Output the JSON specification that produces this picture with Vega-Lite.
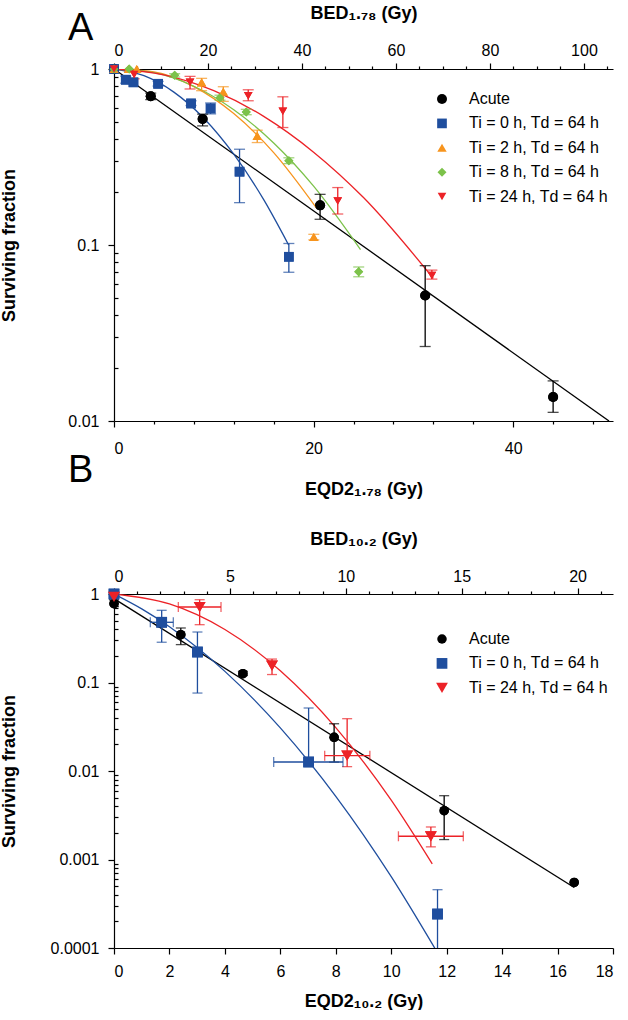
{
  "$schema": "https://vega.github.io/schema/vega-lite/v6.json",
  "padding": {"left": 0, "top": 4, "right": 5, "bottom": 0},
  "spacing": -46,
  "config": {
    "font": "Liberation Sans",
    "view": {"stroke": null},
    "axis": {"grid": false, "labelFont": "Liberation Sans", "labelFontSize": 16, "labelColor": "#000", "titleFont": "Liberation Sans", "titleFontSize": 18, "titleFontWeight": "bold", "titleColor": "#000", "domainColor": "#000", "tickColor": "#000", "domainWidth": 1.2, "tickWidth": 1.2},
    "title": {"font": "Liberation Sans", "fontWeight": "normal", "fontSize": 38, "color": "#000"},
    "legend": {"title": null, "orient": "none", "labelFontSize": 16, "labelFont": "Liberation Sans", "labelColor": "#000", "rowPadding": 8.4, "labelOffset": 19, "padding": 0, "labelLimit": 300, "symbolStrokeWidth": 0}
  },
  "datasets": {
    "a_pts": [
      {"s": "Acute", "d": 0, "sf": 1},
      {"s": "Acute", "d": 3.68, "sf": 0.7},
      {"s": "Acute", "d": 8.88, "sf": 0.52},
      {"s": "Acute", "d": 20.65, "sf": 0.168},
      {"s": "Acute", "d": 31.18, "sf": 0.0517},
      {"s": "Acute", "d": 44.0, "sf": 0.0137},
      {"s": "Ti = 0 h, Td = 64 h", "d": 0, "sf": 1},
      {"s": "Ti = 0 h, Td = 64 h", "d": 1.18, "sf": 0.869},
      {"s": "Ti = 0 h, Td = 64 h", "d": 1.95, "sf": 0.84},
      {"s": "Ti = 0 h, Td = 64 h", "d": 4.42, "sf": 0.824},
      {"s": "Ti = 0 h, Td = 64 h", "d": 7.72, "sf": 0.637},
      {"s": "Ti = 0 h, Td = 64 h", "d": 9.68, "sf": 0.597},
      {"s": "Ti = 0 h, Td = 64 h", "d": 12.58, "sf": 0.261},
      {"s": "Ti = 0 h, Td = 64 h", "d": 17.52, "sf": 0.0857},
      {"s": "Ti = 2 h, Td = 64 h", "d": 0, "sf": 1},
      {"s": "Ti = 2 h, Td = 64 h", "d": 1.45, "sf": 1.0},
      {"s": "Ti = 2 h, Td = 64 h", "d": 2.28, "sf": 1.0},
      {"s": "Ti = 2 h, Td = 64 h", "d": 8.78, "sf": 0.84},
      {"s": "Ti = 2 h, Td = 64 h", "d": 10.95, "sf": 0.743},
      {"s": "Ti = 2 h, Td = 64 h", "d": 14.35, "sf": 0.417},
      {"s": "Ti = 2 h, Td = 64 h", "d": 20.02, "sf": 0.111},
      {"s": "Ti = 8 h, Td = 64 h", "d": 0, "sf": 1},
      {"s": "Ti = 8 h, Td = 64 h", "d": 1.52, "sf": 1.0},
      {"s": "Ti = 8 h, Td = 64 h", "d": 6.08, "sf": 0.921},
      {"s": "Ti = 8 h, Td = 64 h", "d": 10.62, "sf": 0.687},
      {"s": "Ti = 8 h, Td = 64 h", "d": 13.25, "sf": 0.57},
      {"s": "Ti = 8 h, Td = 64 h", "d": 17.52, "sf": 0.301},
      {"s": "Ti = 8 h, Td = 64 h", "d": 24.52, "sf": 0.0705},
      {"s": "Ti = 24 h, Td = 64 h", "d": 0, "sf": 1},
      {"s": "Ti = 24 h, Td = 64 h", "d": 2.02, "sf": 0.93},
      {"s": "Ti = 24 h, Td = 64 h", "d": 7.62, "sf": 0.84},
      {"s": "Ti = 24 h, Td = 64 h", "d": 13.45, "sf": 0.705},
      {"s": "Ti = 24 h, Td = 64 h", "d": 16.92, "sf": 0.576},
      {"s": "Ti = 24 h, Td = 64 h", "d": 22.42, "sf": 0.178},
      {"s": "Ti = 24 h, Td = 64 h", "d": 31.85, "sf": 0.067}
    ],
    "a_err": [
      {"s": "Acute", "d": 3.68, "lo": 0.67, "hi": 0.73},
      {"s": "Acute", "d": 8.88, "lo": 0.475, "hi": 0.554},
      {"s": "Acute", "d": 20.65, "lo": 0.14, "hi": 0.194},
      {"s": "Acute", "d": 31.18, "lo": 0.0265, "hi": 0.0763},
      {"s": "Acute", "d": 44.0, "lo": 0.0112, "hi": 0.0169},
      {"s": "Ti = 0 h, Td = 64 h", "d": 1.18, "lo": 0.83, "hi": 0.91},
      {"s": "Ti = 0 h, Td = 64 h", "d": 4.42, "lo": 0.8, "hi": 0.85},
      {"s": "Ti = 0 h, Td = 64 h", "d": 7.72, "lo": 0.62, "hi": 0.66},
      {"s": "Ti = 0 h, Td = 64 h", "d": 9.68, "lo": 0.556, "hi": 0.641},
      {"s": "Ti = 0 h, Td = 64 h", "d": 12.58, "lo": 0.174, "hi": 0.35},
      {"s": "Ti = 0 h, Td = 64 h", "d": 17.52, "lo": 0.07, "hi": 0.102},
      {"s": "Ti = 2 h, Td = 64 h", "d": 8.78, "lo": 0.753, "hi": 0.885},
      {"s": "Ti = 2 h, Td = 64 h", "d": 10.95, "lo": 0.655, "hi": 0.793},
      {"s": "Ti = 2 h, Td = 64 h", "d": 14.35, "lo": 0.382, "hi": 0.449},
      {"s": "Ti = 2 h, Td = 64 h", "d": 20.02, "lo": 0.107, "hi": 0.115},
      {"s": "Ti = 8 h, Td = 64 h", "d": 6.08, "lo": 0.9, "hi": 0.94},
      {"s": "Ti = 8 h, Td = 64 h", "d": 10.62, "lo": 0.665, "hi": 0.71},
      {"s": "Ti = 8 h, Td = 64 h", "d": 13.25, "lo": 0.55, "hi": 0.59},
      {"s": "Ti = 8 h, Td = 64 h", "d": 17.52, "lo": 0.29, "hi": 0.313},
      {"s": "Ti = 8 h, Td = 64 h", "d": 24.52, "lo": 0.066, "hi": 0.075},
      {"s": "Ti = 24 h, Td = 64 h", "d": 2.02, "lo": 0.88, "hi": 0.97},
      {"s": "Ti = 24 h, Td = 64 h", "d": 7.62, "lo": 0.77, "hi": 0.908},
      {"s": "Ti = 24 h, Td = 64 h", "d": 13.45, "lo": 0.66, "hi": 0.762},
      {"s": "Ti = 24 h, Td = 64 h", "d": 16.92, "lo": 0.465, "hi": 0.695},
      {"s": "Ti = 24 h, Td = 64 h", "d": 22.42, "lo": 0.15, "hi": 0.212},
      {"s": "Ti = 24 h, Td = 64 h", "d": 31.85, "lo": 0.064, "hi": 0.072}
    ],
    "a_fit": [
      {"s": "Acute", "d": 0, "sf": 1},
      {"s": "Acute", "d": 49.6, "sf": 0.01},
      {"s": "Ti = 0 h, Td = 64 h", "d": 0, "sf": 1},
      {"s": "Ti = 0 h, Td = 64 h", "d": 3, "sf": 0.916},
      {"s": "Ti = 0 h, Td = 64 h", "d": 6, "sf": 0.739},
      {"s": "Ti = 0 h, Td = 64 h", "d": 9, "sf": 0.525},
      {"s": "Ti = 0 h, Td = 64 h", "d": 12, "sf": 0.328},
      {"s": "Ti = 0 h, Td = 64 h", "d": 15, "sf": 0.181},
      {"s": "Ti = 0 h, Td = 64 h", "d": 17.5, "sf": 0.1},
      {"s": "Ti = 2 h, Td = 64 h", "d": 0, "sf": 1},
      {"s": "Ti = 2 h, Td = 64 h", "d": 4, "sf": 0.964},
      {"s": "Ti = 2 h, Td = 64 h", "d": 8, "sf": 0.794},
      {"s": "Ti = 2 h, Td = 64 h", "d": 12, "sf": 0.558},
      {"s": "Ti = 2 h, Td = 64 h", "d": 16, "sf": 0.335},
      {"s": "Ti = 2 h, Td = 64 h", "d": 20.3, "sf": 0.162},
      {"s": "Ti = 8 h, Td = 64 h", "d": 0, "sf": 1},
      {"s": "Ti = 8 h, Td = 64 h", "d": 4, "sf": 0.953},
      {"s": "Ti = 8 h, Td = 64 h", "d": 8, "sf": 0.798},
      {"s": "Ti = 8 h, Td = 64 h", "d": 12, "sf": 0.587},
      {"s": "Ti = 8 h, Td = 64 h", "d": 16, "sf": 0.38},
      {"s": "Ti = 8 h, Td = 64 h", "d": 20, "sf": 0.216},
      {"s": "Ti = 8 h, Td = 64 h", "d": 24.7, "sf": 0.0942},
      {"s": "Ti = 24 h, Td = 64 h", "d": 0, "sf": 1},
      {"s": "Ti = 24 h, Td = 64 h", "d": 5, "sf": 0.927},
      {"s": "Ti = 24 h, Td = 64 h", "d": 10, "sf": 0.754},
      {"s": "Ti = 24 h, Td = 64 h", "d": 15, "sf": 0.538},
      {"s": "Ti = 24 h, Td = 64 h", "d": 20, "sf": 0.337},
      {"s": "Ti = 24 h, Td = 64 h", "d": 25, "sf": 0.186},
      {"s": "Ti = 24 h, Td = 64 h", "d": 32, "sf": 0.0646}
    ],
    "b_pts": [
      {"s": "Acute", "d": 0, "sf": 0.777},
      {"s": "Acute", "d": 2.41, "sf": 0.347},
      {"s": "Acute", "d": 4.65, "sf": 0.1257},
      {"s": "Acute", "d": 7.94, "sf": 0.024},
      {"s": "Acute", "d": 11.91, "sf": 0.00356},
      {"s": "Acute", "d": 16.6, "sf": 0.00055},
      {"s": "Ti = 0 h, Td = 64 h", "d": 0, "sf": 1.0},
      {"s": "Ti = 0 h, Td = 64 h", "d": 1.72, "sf": 0.479},
      {"s": "Ti = 0 h, Td = 64 h", "d": 3.01, "sf": 0.221},
      {"s": "Ti = 0 h, Td = 64 h", "d": 7.02, "sf": 0.01264},
      {"s": "Ti = 0 h, Td = 64 h", "d": 11.67, "sf": 0.000242},
      {"s": "Ti = 24 h, Td = 64 h", "d": 0, "sf": 0.925},
      {"s": "Ti = 24 h, Td = 64 h", "d": 3.09, "sf": 0.713},
      {"s": "Ti = 24 h, Td = 64 h", "d": 5.7, "sf": 0.155},
      {"s": "Ti = 24 h, Td = 64 h", "d": 8.41, "sf": 0.0149},
      {"s": "Ti = 24 h, Td = 64 h", "d": 11.43, "sf": 0.00183}
    ],
    "b_err": [
      {"s": "Acute", "d": 0, "lo": 0.72, "hi": 0.86},
      {"s": "Acute", "d": 2.41, "lo": 0.268, "hi": 0.413},
      {"s": "Acute", "d": 4.65, "lo": 0.12, "hi": 0.133},
      {"s": "Acute", "d": 7.94, "lo": 0.0126, "hi": 0.0342},
      {"s": "Acute", "d": 11.91, "lo": 0.00168, "hi": 0.00526},
      {"s": "Ti = 0 h, Td = 64 h", "d": 1.72, "lo": 0.285, "hi": 0.654},
      {"s": "Ti = 0 h, Td = 64 h", "d": 3.01, "lo": 0.076, "hi": 0.372},
      {"s": "Ti = 0 h, Td = 64 h", "d": 7.02, "lo": 0.0126, "hi": 0.0515},
      {"s": "Ti = 0 h, Td = 64 h", "d": 11.67, "lo": 0.00008, "hi": 0.000456},
      {"s": "Ti = 24 h, Td = 64 h", "d": 3.09, "lo": 0.45, "hi": 0.862},
      {"s": "Ti = 24 h, Td = 64 h", "d": 5.7, "lo": 0.123, "hi": 0.184},
      {"s": "Ti = 24 h, Td = 64 h", "d": 8.41, "lo": 0.0112, "hi": 0.039},
      {"s": "Ti = 24 h, Td = 64 h", "d": 11.43, "lo": 0.00139, "hi": 0.00233}
    ],
    "b_xerr": [
      {"s": "Ti = 0 h, Td = 64 h", "sf": 0.479, "xlo": 1.31, "xhi": 2.14},
      {"s": "Ti = 0 h, Td = 64 h", "sf": 0.01264, "xlo": 5.76, "xhi": 8.26},
      {"s": "Ti = 24 h, Td = 64 h", "sf": 0.713, "xlo": 2.32, "xhi": 3.86},
      {"s": "Ti = 24 h, Td = 64 h", "sf": 0.0149, "xlo": 7.6, "xhi": 9.23},
      {"s": "Ti = 24 h, Td = 64 h", "sf": 0.00183, "xlo": 10.26, "xhi": 12.6}
    ],
    "b_fit": [
      {"s": "Acute", "d": 0, "sf": 0.887},
      {"s": "Acute", "d": 16.6, "sf": 0.000483},
      {"s": "Ti = 0 h, Td = 64 h", "d": 0, "sf": 1},
      {"s": "Ti = 0 h, Td = 64 h", "d": 1, "sf": 0.679},
      {"s": "Ti = 0 h, Td = 64 h", "d": 2, "sf": 0.427},
      {"s": "Ti = 0 h, Td = 64 h", "d": 4, "sf": 0.1336},
      {"s": "Ti = 0 h, Td = 64 h", "d": 6, "sf": 0.0307},
      {"s": "Ti = 0 h, Td = 64 h", "d": 8, "sf": 0.00518},
      {"s": "Ti = 0 h, Td = 64 h", "d": 10, "sf": 0.00064},
      {"s": "Ti = 0 h, Td = 64 h", "d": 11.6, "sf": 0.0000962},
      {"s": "Ti = 24 h, Td = 64 h", "d": 0, "sf": 1},
      {"s": "Ti = 24 h, Td = 64 h", "d": 2, "sf": 0.772},
      {"s": "Ti = 24 h, Td = 64 h", "d": 4, "sf": 0.397},
      {"s": "Ti = 24 h, Td = 64 h", "d": 6, "sf": 0.1356},
      {"s": "Ti = 24 h, Td = 64 h", "d": 8, "sf": 0.0309},
      {"s": "Ti = 24 h, Td = 64 h", "d": 10, "sf": 0.00468},
      {"s": "Ti = 24 h, Td = 64 h", "d": 11.48, "sf": 0.000891}
    ]
  },
  "vconcat": [
    {
      "width": 499,
      "height": 352,
      "title": {"text": "A", "anchor": "start", "frame": "group", "dx": -46, "offset": -44},
      "resolve": {"scale": {"x": "independent"}},
      "layer": [
        {
          "data": {"values": [{"b": 0}]},
          "mark": {"type": "point", "opacity": 0},
          "encoding": {
            "x": {"field": "b", "type": "quantitative",
              "scale": {"domain": [0, 106.18], "nice": false, "zero": false},
              "axis": {"orient": "top", "title": "BED₁.₇₈ (Gy)", "values": [0,5,10,15,20,25,30,35,40,45,50,55,60,65,70,75,80,85,90,95,100,105],
                "labelExpr": "datum.value % 20 == 0 ? datum.label : ''",
                "tickSize": {"condition": {"test": "datum.value % 20 == 0", "value": 6}, "value": 3},
                "labelPadding": 5, "titlePadding": 20}}
          }
        },
        {
          "layer": [
            {
              "data": {"name": "a_pts"},
              "mark": {"type": "point", "filled": true, "opacity": 1, "strokeWidth": 0},
              "encoding": {
                "x": {"field": "d", "type": "quantitative",
                  "scale": {"domain": [0, 50], "nice": false, "zero": false},
                  "axis": {"orient": "bottom", "title": "EQD2₁.₇₈ (Gy)", "values": [0,2,4,6,8,10,12,14,16,18,20,22,24,26,28,30,32,34,36,38,40,42,44,46,48,50],
                    "labelExpr": "datum.value % 10 == 0 ? datum.label : ''",
                    "tickSize": {"condition": {"test": "datum.value % 10 == 0", "value": 6}, "value": 3},
                    "labelPadding": 13, "titlePadding": 24}},
                "y": {"field": "sf", "type": "quantitative",
                  "scale": {"type": "log", "domain": [0.01, 1], "nice": false},
                  "axis": {"title": "Surviving fraction", "titleX": -96,
                    "values": [0.01,0.02,0.03,0.04,0.05,0.06,0.07,0.08,0.09,0.1,0.2,0.3,0.4,0.5,0.6,0.7,0.8,0.9,1],
                    "labelExpr": "abs(log(datum.value)/LN10 - round(log(datum.value)/LN10)) < 0.001 ? format(datum.value, '~g') : ''",
                    "tickSize": {"condition": {"test": "abs(log(datum.value)/LN10 - round(log(datum.value)/LN10)) < 0.001", "value": 6}, "value": -4},
                    "labelPadding": 9}},
                "color": {"field": "s", "type": "nominal",
                  "scale": {"domain": ["Acute", "Ti = 0 h, Td = 64 h", "Ti = 2 h, Td = 64 h", "Ti = 8 h, Td = 64 h", "Ti = 24 h, Td = 64 h"],
                    "range": ["#000000", "#1f4e9e", "#f7941d", "#7cc24a", "#ec2227"]},
                  "legend": {"legendX": 320, "legendY": 22, "symbolSize": 100}},
                "shape": {"field": "s", "type": "nominal",
                  "scale": {"domain": ["Acute", "Ti = 0 h, Td = 64 h", "Ti = 2 h, Td = 64 h", "Ti = 8 h, Td = 64 h", "Ti = 24 h, Td = 64 h"],
                    "range": ["circle", "square", "triangle-up", "diamond", "triangle-down"]},
                  "legend": {"legendX": 320, "legendY": 22, "symbolSize": 100}},
                "size": {"field": "s", "type": "nominal",
                  "scale": {"domain": ["Acute", "Ti = 0 h, Td = 64 h", "Ti = 2 h, Td = 64 h", "Ti = 8 h, Td = 64 h", "Ti = 24 h, Td = 64 h"],
                    "range": [100, 75, 100, 90, 100]},
                  "legend": null}
              }
            },
            {
              "data": {"name": "a_fit"},
              "mark": {"type": "line", "strokeWidth": 1.3, "interpolate": "monotone", "clip": true},
              "encoding": {
                "x": {"field": "d", "type": "quantitative"},
                "y": {"field": "sf", "type": "quantitative"},
                "color": {"field": "s", "type": "nominal", "legend": null},
                "detail": {"field": "s"}
              }
            },
            {
              "data": {"name": "a_err"},
              "mark": {"type": "rule", "strokeWidth": 1.3},
              "encoding": {
                "x": {"field": "d", "type": "quantitative"},
                "y": {"field": "lo", "type": "quantitative"},
                "y2": {"field": "hi"},
                "color": {"field": "s", "type": "nominal", "legend": null}
              }
            },
            {
              "data": {"name": "a_err"},
              "mark": {"type": "tick", "orient": "horizontal", "size": 11, "thickness": 1.3},
              "encoding": {
                "x": {"field": "d", "type": "quantitative"},
                "y": {"field": "lo", "type": "quantitative"},
                "color": {"field": "s", "type": "nominal", "legend": null}
              }
            },
            {
              "data": {"name": "a_err"},
              "mark": {"type": "tick", "orient": "horizontal", "size": 11, "thickness": 1.3},
              "encoding": {
                "x": {"field": "d", "type": "quantitative"},
                "y": {"field": "hi", "type": "quantitative"},
                "color": {"field": "s", "type": "nominal", "legend": null}
              }
            },
            {
              "data": {"name": "a_pts"},
              "mark": {"type": "point", "filled": true, "opacity": 1, "strokeWidth": 0},
              "encoding": {
                "x": {"field": "d", "type": "quantitative"},
                "y": {"field": "sf", "type": "quantitative"},
                "color": {"field": "s", "type": "nominal", "legend": null},
                "shape": {"field": "s", "type": "nominal", "legend": null},
                "size": {"field": "s", "type": "nominal", "legend": null}
              }
            },
            {
              "mark": {"type": "text", "fontSize": 34, "align": "left", "baseline": "alphabetic", "font": "Liberation Sans", "color": "#000"},
              "encoding": {
                "x": {"datum": 1.85, "type": "quantitative"},
                "y": {"datum": 0.0136, "type": "quantitative"},
                "text": {"value": "V79"}
              }
            }
          ]
        }
      ]
    },
    {
      "width": 499,
      "height": 354,
      "title": {"text": "B", "anchor": "start", "frame": "group", "dx": -46, "offset": 40},
      "resolve": {"scale": {"x": "independent"}},
      "layer": [
        {
          "data": {"values": [{"b": 0}]},
          "mark": {"type": "point", "opacity": 0},
          "encoding": {
            "x": {"field": "b", "type": "quantitative",
              "scale": {"domain": [0, 21.53], "nice": false, "zero": false},
              "axis": {"orient": "top", "title": "BED₁₀.₂ (Gy)", "values": [0,1,2,3,4,5,6,7,8,9,10,11,12,13,14,15,16,17,18,19,20,21],
                "labelExpr": "datum.value % 5 == 0 ? datum.label : ''",
                "tickSize": {"condition": {"test": "datum.value % 5 == 0", "value": 6}, "value": 3},
                "labelPadding": 4, "titlePadding": 20}}
          }
        },
        {
          "layer": [
            {
              "data": {"name": "b_pts"},
              "mark": {"type": "point", "filled": true, "opacity": 1, "strokeWidth": 0},
              "encoding": {
                "x": {"field": "d", "type": "quantitative",
                  "scale": {"domain": [0, 18], "nice": false, "zero": false},
                  "axis": {"orient": "bottom", "title": "EQD2₁₀.₂ (Gy)", "values": [0,0.5,1,1.5,2,2.5,3,3.5,4,4.5,5,5.5,6,6.5,7,7.5,8,8.5,9,9.5,10,10.5,11,11.5,12,12.5,13,13.5,14,14.5,15,15.5,16,16.5,17,17.5,18],
                    "labelExpr": "datum.value % 2 == 0 ? datum.label : ''",
                    "tickSize": {"condition": {"test": "datum.value % 2 == 0", "value": 6}, "value": 3},
                    "labelPadding": 9, "titlePadding": 13}},
                "y": {"field": "sf", "type": "quantitative",
                  "scale": {"type": "log", "domain": [0.0001, 1], "nice": false},
                  "axis": {"title": "Surviving fraction", "titleX": -96,
                    "values": [0.0001,0.0002,0.0003,0.0004,0.0005,0.0006,0.0007,0.0008,0.0009,0.001,0.002,0.003,0.004,0.005,0.006,0.007,0.008,0.009,0.01,0.02,0.03,0.04,0.05,0.06,0.07,0.08,0.09,0.1,0.2,0.3,0.4,0.5,0.6,0.7,0.8,0.9,1],
                    "labelExpr": "abs(log(datum.value)/LN10 - round(log(datum.value)/LN10)) < 0.001 ? format(datum.value, '~g') : ''",
                    "tickSize": {"condition": {"test": "abs(log(datum.value)/LN10 - round(log(datum.value)/LN10)) < 0.001", "value": 6}, "value": -4},
                    "labelPadding": 9}},
                "color": {"field": "s", "type": "nominal",
                  "scale": {"domain": ["Acute", "Ti = 0 h, Td = 64 h", "Ti = 24 h, Td = 64 h"],
                    "range": ["#000000", "#1f4e9e", "#ec2227"]},
                  "legend": {"legendX": 320, "legendY": 37, "symbolSize": 120}},
                "shape": {"field": "s", "type": "nominal",
                  "scale": {"domain": ["Acute", "Ti = 0 h, Td = 64 h", "Ti = 24 h, Td = 64 h"],
                    "range": ["circle", "square", "triangle-down"]},
                  "legend": {"legendX": 320, "legendY": 37, "symbolSize": 120}},
                "size": {"field": "s", "type": "nominal",
                  "scale": {"domain": ["Acute", "Ti = 0 h, Td = 64 h", "Ti = 24 h, Td = 64 h"],
                    "range": [90, 140, 150]},
                  "legend": null}
              }
            },
            {
              "data": {"name": "b_fit"},
              "mark": {"type": "line", "strokeWidth": 1.3, "interpolate": "monotone", "clip": true},
              "encoding": {
                "x": {"field": "d", "type": "quantitative"},
                "y": {"field": "sf", "type": "quantitative"},
                "color": {"field": "s", "type": "nominal", "legend": null},
                "detail": {"field": "s"}
              }
            },
            {
              "data": {"name": "b_err"},
              "mark": {"type": "rule", "strokeWidth": 1.3, "clip": true},
              "encoding": {
                "x": {"field": "d", "type": "quantitative"},
                "y": {"field": "lo", "type": "quantitative"},
                "y2": {"field": "hi"},
                "color": {"field": "s", "type": "nominal", "legend": null}
              }
            },
            {
              "data": {"name": "b_err"},
              "mark": {"type": "tick", "orient": "horizontal", "size": 10, "thickness": 1.3, "clip": true},
              "encoding": {
                "x": {"field": "d", "type": "quantitative"},
                "y": {"field": "lo", "type": "quantitative"},
                "color": {"field": "s", "type": "nominal", "legend": null}
              }
            },
            {
              "data": {"name": "b_err"},
              "mark": {"type": "tick", "orient": "horizontal", "size": 10, "thickness": 1.3},
              "encoding": {
                "x": {"field": "d", "type": "quantitative"},
                "y": {"field": "hi", "type": "quantitative"},
                "color": {"field": "s", "type": "nominal", "legend": null}
              }
            },
            {
              "data": {"name": "b_xerr"},
              "mark": {"type": "rule", "strokeWidth": 1.3},
              "encoding": {
                "x": {"field": "xlo", "type": "quantitative"},
                "x2": {"field": "xhi"},
                "y": {"field": "sf", "type": "quantitative"},
                "color": {"field": "s", "type": "nominal", "legend": null}
              }
            },
            {
              "data": {"name": "b_xerr"},
              "mark": {"type": "tick", "orient": "vertical", "size": 10, "thickness": 1.3},
              "encoding": {
                "x": {"field": "xlo", "type": "quantitative"},
                "y": {"field": "sf", "type": "quantitative"},
                "color": {"field": "s", "type": "nominal", "legend": null}
              }
            },
            {
              "data": {"name": "b_xerr"},
              "mark": {"type": "tick", "orient": "vertical", "size": 10, "thickness": 1.3},
              "encoding": {
                "x": {"field": "xhi", "type": "quantitative"},
                "y": {"field": "sf", "type": "quantitative"},
                "color": {"field": "s", "type": "nominal", "legend": null}
              }
            },
            {
              "data": {"name": "b_pts"},
              "mark": {"type": "point", "filled": true, "opacity": 1, "strokeWidth": 0},
              "encoding": {
                "x": {"field": "d", "type": "quantitative"},
                "y": {"field": "sf", "type": "quantitative"},
                "color": {"field": "s", "type": "nominal", "legend": null},
                "shape": {"field": "s", "type": "nominal", "legend": null},
                "size": {"field": "s", "type": "nominal", "legend": null}
              }
            },
            {
              "mark": {"type": "text", "fontSize": 34, "align": "left", "baseline": "alphabetic", "font": "Liberation Sans", "color": "#000"},
              "encoding": {
                "x": {"datum": 0.46, "type": "quantitative"},
                "y": {"datum": 0.000175, "type": "quantitative"},
                "text": {"value": "MDA-MB-231"}
              }
            }
          ]
        }
      ]
    }
  ],
  "resolve": {"scale": {"color": "independent", "shape": "independent", "size": "independent"}}
}
